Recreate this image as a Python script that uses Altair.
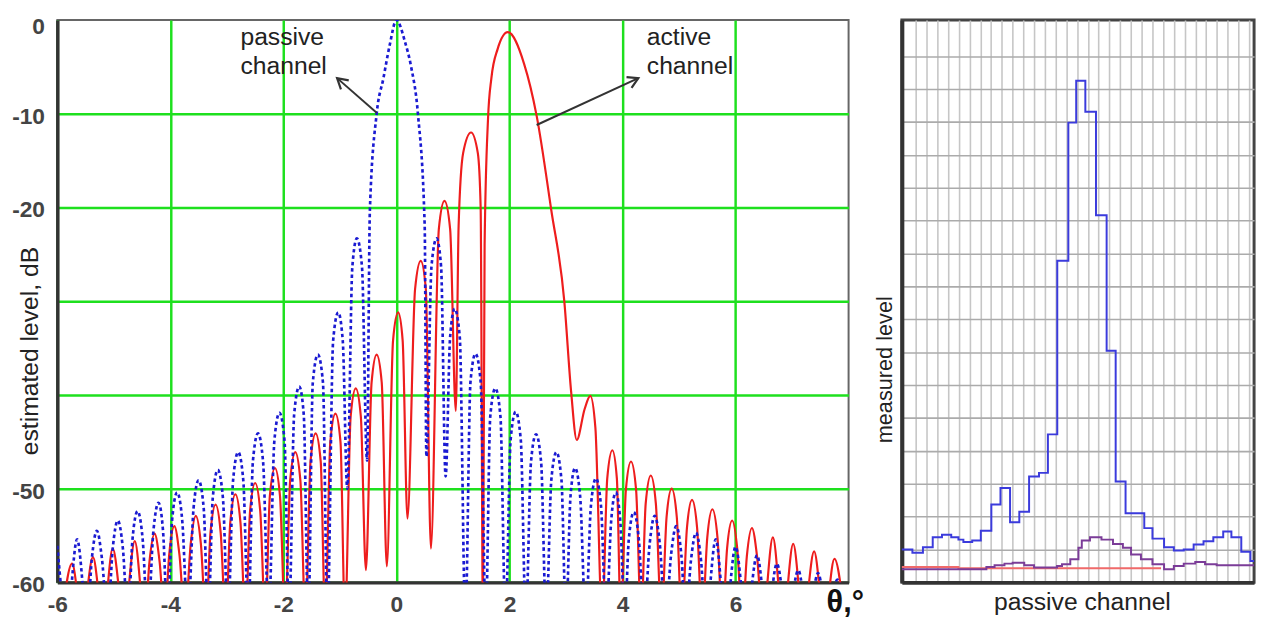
import altair as alt
import pandas as pd

F = -64  # a null that falls below the -60 dB floor of the plot

# ---------------- left panel: estimated beam patterns, (theta deg, level dB) ----------------
active_left = [
    (-5.92, F), (-5.74, -58.0), (-5.56, F), (-5.37, -57.3), (-5.19, F),
    (-5.02, -56.4), (-4.82, F), (-4.63, -55.6), (-4.45, F),
    (-4.37, -57.8), (-4.28, -54.8), (-4.19, -57.8), (-4.10, F),
    (-4.02, -57.0), (-3.93, -54.0), (-3.84, -57.0), (-3.74, F),
    (-3.64, -55.9), (-3.55, -52.9), (-3.46, -55.9), (-3.37, F),
    (-3.29, -54.7), (-3.20, -51.7), (-3.11, -54.7), (-3.02, F),
    (-2.94, -53.6), (-2.85, -50.6), (-2.76, -53.6), (-2.67, F),
    (-2.59, -52.4), (-2.50, -49.4), (-2.41, -52.4), (-2.32, F),
    (-2.24, -50.8), (-2.15, -47.8), (-2.06, -50.8), (-1.97, F),
    (-1.88, -49.1), (-1.79, -46.1), (-1.70, -49.1), (-1.61, F),
    (-1.52, -47.1), (-1.43, -44.1), (-1.34, -47.1), (-1.26, F),
    (-1.17, -45.0), (-1.08, -42.0), (-0.99, -45.0), (-0.91, F),
]
active_center = [
    (-0.81, -42.3), (-0.72, -39.3), (-0.63, -42.3), (-0.54, -58.7),
    (-0.44, -38.7), (-0.35, -35.7), (-0.26, -38.7), (-0.17, -58.3),
    (-0.06, -34.2), (0.03, -31.2), (0.11, -34.2), (0.195, -53.2),
    (0.33, -28.7), (0.43, -25.7), (0.52, -28.7), (0.61, -56.4),
    (0.75, -22.3), (0.85, -19.3), (0.95, -22.3), (1.05, -41.7),
    (1.10, -22.0), (1.18, -14.2), (1.32, -12.0), (1.44, -14.2), (1.49, -20.0), (1.53, F),
    (1.56, -24.0), (1.62, -10.6), (1.68, -6.2), (1.79, -3.1), (1.97, -1.3),
    (2.26, -4.7), (2.48, -10.2), (2.74, -20.3), (2.97, -30.0), (3.09, -39.6),
    (3.19, -44.8), (3.33, -41.5), (3.43, -40.1), (3.52, -43.5), (3.64, F),
]
active_right = [
    (3.73, -48.9), (3.82, -45.9), (3.90, -48.9), (3.97, F),
    (4.06, -50.1), (4.15, -47.1), (4.24, -50.1), (4.33, F),
    (4.41, -51.6), (4.50, -48.6), (4.59, -51.6), (4.69, F),
    (4.78, -53.0), (4.87, -50.0), (4.96, -53.0), (5.05, F),
    (5.14, -54.2), (5.23, -51.2), (5.32, -54.2), (5.41, F),
    (5.50, -55.2), (5.59, -52.2), (5.68, -55.2), (5.77, F),
    (5.85, -56.4), (5.94, -53.4), (6.03, -56.4), (6.12, F),
    (6.20, -57.2), (6.29, -54.2), (6.38, -57.2), (6.48, F),
    (6.66, -55.2), (6.84, F), (7.02, -55.9), (7.20, F),
    (7.39, -56.7), (7.57, F), (7.75, -57.5), (7.93, F),
]

passive_left = [
    (-6.00, -56.1), (-5.83, F), (-5.65, -55.4), (-5.47, F),
    (-5.39, -57.5), (-5.30, -54.5), (-5.21, -57.5), (-5.11, F),
    (-5.02, -56.4), (-4.93, -53.4), (-4.84, -56.4), (-4.75, F),
    (-4.67, -55.4), (-4.58, -52.4), (-4.49, -55.4), (-4.40, F),
    (-4.30, -54.5), (-4.21, -51.5), (-4.13, -54.5), (-4.05, F),
    (-3.97, -53.4), (-3.88, -50.4), (-3.79, -53.4), (-3.69, F),
    (-3.59, -52.1), (-3.50, -49.1), (-3.41, -52.1), (-3.33, F),
    (-3.25, -51.0), (-3.16, -48.0), (-3.07, -51.0), (-2.98, F),
    (-2.89, -49.1), (-2.80, -46.1), (-2.71, -49.1), (-2.62, F),
    (-2.54, -47.1), (-2.45, -44.1), (-2.36, -47.1), (-2.26, F),
    (-2.16, -44.9), (-2.07, -41.9), (-1.98, -44.9), (-1.90, F),
    (-1.81, -42.1), (-1.72, -39.1), (-1.64, -42.1), (-1.56, F),
    (-1.48, -38.7), (-1.39, -35.7), (-1.30, -38.7), (-1.22, F),
    (-1.12, -34.2), (-1.03, -31.2), (-0.95, -34.2), (-0.87, -50.0),
    (-0.78, -26.3), (-0.70, -23.3), (-0.61, -26.3), (-0.52, -47.0),
]
passive_center = [
    (-0.47, -20.3), (-0.35, -10.0), (-0.23, -6.2), (-0.12, -2.7), (0.00, 0.0),
    (0.15, -2.3), (0.26, -5.0), (0.38, -10.0), (0.50, -22.0), (0.53, -46.6),
    (0.62, -26.3), (0.71, -23.3), (0.79, -26.3), (0.87, -48.7),
    (0.95, -33.8), (1.03, -30.8), (1.12, -33.8), (1.22, F),
]
passive_right = [
    (1.31, -38.6), (1.40, -35.6), (1.49, -38.6), (1.58, F),
    (1.66, -42.3), (1.75, -39.3), (1.84, -42.3), (1.93, F),
    (2.02, -44.8), (2.11, -41.8), (2.20, -44.8), (2.29, F),
    (2.38, -47.2), (2.47, -44.2), (2.56, -47.2), (2.65, F),
    (2.74, -49.1), (2.83, -46.1), (2.92, -49.1), (3.00, F),
    (3.08, -50.8), (3.16, -47.8), (3.25, -50.8), (3.35, F),
    (3.44, -51.9), (3.53, -48.9), (3.62, -51.9), (3.71, F),
    (3.80, -53.4), (3.88, -50.4), (3.96, -53.4), (4.04, F),
    (4.11, -55.5), (4.20, -52.5), (4.29, -55.5), (4.38, F),
    (4.48, -55.9), (4.57, -52.9), (4.66, -55.9), (4.76, F),
    (4.86, -57.0), (4.95, -54.0), (5.04, -57.0), (5.12, F),
    (5.21, -57.7), (5.30, -54.7), (5.39, -57.7), (5.47, F),
    (5.65, -55.4), (5.82, F), (6.00, -56.2), (6.19, F),
    (6.38, -57.1), (6.56, F), (6.73, -58.0), (6.92, F),
    (7.11, -58.7), (7.28, F), (7.46, -59.0), (7.63, F), (7.80, -59.7), (7.97, F),
]

x_ticks = [-6, -4, -2, 0, 2, 4, 6]
y_ticks = [-60, -50, -40, -30, -20, -10, 0]

note_x = [-2.76, 4.43]
note_y = [-2.7, -2.7]
note_text = ["passive\nchannel", "active\nchannel"]

arrow_x0 = [-0.35, 2.48]
arrow_y0 = [-9.9, -11.2]
arrow_x1 = [-1.05, 4.28]
arrow_y1 = [-6.2, -6.2]
arrow_angle = [311, 65]

# ---------------- right panel: measured levels (step traces) ----------------
blue_x = [-0.3, 0.68, 1.66, 2.57, 3.43, 4.29, 4.96, 5.42, 6.24, 7.04,
          8.02, 8.87, 9.76, 10.62, 11.53, 12.45, 13.28, 14.15, 15.18, 15.91,
          16.76, 17.75, 18.74, 19.58, 20.50, 22.24, 23.00, 24.08, 24.99, 25.91,
          26.83, 27.75, 28.66, 29.58, 30.34, 31.26, 32.11, 32.45]
blue_y = [1.0, 0.90, 1.07, 1.37, 1.45, 1.37, 1.30, 1.23, 1.27, 1.57,
          2.37, 2.87, 1.83, 2.15, 3.22, 3.33, 4.50, 9.78, 13.98, 15.25,
          14.31, 11.16, 7.04, 3.07, 2.10, 1.65, 1.33, 1.07, 0.97, 1.0,
          1.15, 1.25, 1.37, 1.55, 1.37, 0.93, 0.65, 0.65]

purple_x = [-0.3, 7.56, 8.32, 9.24, 10.0, 11.08, 11.99, 14.13, 14.59, 15.36,
            16.12, 16.43, 17.19, 18.26, 19.33, 20.25, 21.01, 21.93, 23.0, 24.08,
            24.99, 25.91, 26.98, 27.89, 28.97, 32.45]
purple_y = [0.40, 0.47, 0.52, 0.57, 0.60, 0.52, 0.45, 0.50, 0.55, 0.70,
            1.05, 1.27, 1.37, 1.30, 1.17, 1.05, 0.85, 0.70, 0.55, 0.40,
            0.50, 0.57, 0.62, 0.55, 0.52, 0.52]

red_x = [-0.3, 4.96, 23.8]
red_y = [0.47, 0.43, 0.43]

# ---------------- styling ----------------
LW, LH = 802, 570
RW, RH = 357, 570
FONT = "Liberation Sans"
GREEN = "#1ee01e"

xs = alt.Scale(domain=[-6, 8], nice=False, zero=False)
ys = alt.Scale(domain=[-60, 0], nice=False, zero=False)

x_axis = alt.Axis(
    values=x_ticks, grid=True, gridColor=GREEN, gridWidth=2.5, ticks=False,
    domainColor="#333", domainWidth=3.5, labelFlush=False,
    labelExpr="toString(datum.value)", labelFont=FONT, labelFontSize=23,
    labelFontWeight="bold", labelColor="#444", labelPadding=12,
    title="θ,°", titleFont=FONT, titleFontSize=31, titleFontWeight="bold",
    titleColor="#111", titleAlign="right", titleBaseline="alphabetic",
    titleX=LW + 15, titleY=30,
)
y_axis = alt.Axis(
    values=y_ticks, grid=True, gridColor=GREEN, gridWidth=2.5,
    gridOpacity={"condition": {"test": "datum.value === 0", "value": 0}, "value": 1},
    ticks=False, domainColor="#333", domainWidth=3.5,
    labelExpr="datum.value == -30 || datum.value == -40 ? '' : toString(datum.value)",
    labelFont=FONT, labelFontSize=23, labelFontWeight="bold", labelColor="#444",
    labelPadding=13,
    labelOffset={"condition": {"test": "datum.value === 0", "value": 6.5}, "value": 2.5},
    title="estimated level, dB", titleFont=FONT, titleFontSize=25,
    titleFontWeight="normal", titleColor="#222", titleAngle=270,
    titleAlign="center", titleBaseline="alphabetic", titleX=-20, titleY=335,
)

active_pts = active_left + active_center + active_right
passive_pts = passive_left + passive_center + passive_right
df_active = pd.DataFrame(active_pts, columns=["theta", "level"])
df_passive = pd.DataFrame(passive_pts, columns=["theta", "level"])
df_notes = pd.DataFrame({"theta": note_x, "level": note_y, "label": note_text})
df_arrows = pd.DataFrame({"theta": arrow_x0, "level": arrow_y0,
                          "theta1": arrow_x1, "level1": arrow_y1})
df_heads = pd.DataFrame({"theta": arrow_x1, "level": arrow_y1, "angle": arrow_angle})

X = alt.X("theta:Q", scale=xs, axis=x_axis)
Y = alt.Y("level:Q", scale=ys, axis=y_axis)

red_line = alt.Chart(df_active).mark_line(
    color="#ee1d1d", strokeWidth=2.2, interpolate="monotone", clip=True
).encode(x=X, y=Y)
blue_line = alt.Chart(df_passive).mark_line(
    color="#1a1ad2", strokeWidth=2.7, strokeDash=[3.5, 3], interpolate="monotone", clip=True
).encode(x=X, y=Y)
arrow_lines = alt.Chart(df_arrows).mark_rule(color="#333", strokeWidth=2).encode(
    x=X, y=Y, x2="theta1:Q", y2="level1:Q",
)
arrow_heads = alt.Chart(df_heads).mark_point(
    shape="M-0.55,0.95L0,0L0.55,0.95", filled=False, color="#333",
    strokeWidth=2.2, size=480, opacity=1,
).encode(x=X, y=Y, angle=alt.Angle("angle:Q", scale=None))
notes = alt.Chart(df_notes).mark_text(
    align="left", baseline="alphabetic", font=FONT, fontSize=25,
    lineBreak="\n", lineHeight=29, color="#222",
).encode(x=X, y=Y, text="label:N")

left = alt.layer(red_line, blue_line, arrow_lines, arrow_heads, notes).properties(
    width=LW, height=LH, view=alt.ViewBackground(stroke="#666", strokeWidth=2)
)

# ---------------- right panel ----------------
rxs = alt.Scale(domain=[-0.3, 32.45], nice=False, zero=False)
rys = alt.Scale(domain=[0, 17.1], nice=False, zero=False)

rx_axis = alt.Axis(
    values=list(range(1, 33)), grid=True, gridColor="#c6c6c6", gridWidth=1.6,
    labels=False, ticks=False, domainColor="#333", domainWidth=4,
    title="passive channel", titleFont=FONT, titleFontSize=25,
    titleFontWeight="normal", titleColor="#222", titleBaseline="alphabetic",
    titleAlign="center", titleX=RW / 2 + 4, titleY=27,
)
ry_axis = alt.Axis(
    values=list(range(1, 17)), grid=True, gridColor="#ababab", gridWidth=1.6,
    labels=False, ticks=False, domainColor="#333", domainWidth=4,
    title="measured level", titleFont=FONT, titleFontSize=22,
    titleFontWeight="normal", titleColor="#222", titleAngle=270,
    titleAlign="center", titleBaseline="alphabetic", titleX=-11, titleY=354,
)

RX = alt.X("x:Q", scale=rxs, axis=rx_axis)
RY = alt.Y("y:Q", scale=rys, axis=ry_axis)

df_red = pd.DataFrame({"x": red_x, "y": red_y})
df_purple = pd.DataFrame({"x": purple_x, "y": purple_y})
df_blue = pd.DataFrame({"x": blue_x, "y": blue_y})

r_red = alt.Chart(df_red).mark_line(
    color="#f06a6a", strokeWidth=2, interpolate="step-after"
).encode(x=RX, y=RY)
r_purple = alt.Chart(df_purple).mark_line(
    color="#7b3c98", strokeWidth=2, interpolate="step-after"
).encode(x=RX, y=RY)
r_blue = alt.Chart(df_blue).mark_line(
    color="#3b3bdc", strokeWidth=2, interpolate="step-after"
).encode(x=RX, y=RY)

right = alt.layer(r_red, r_purple, r_blue).properties(
    width=RW, height=RH, view=alt.ViewBackground(stroke="#444", strokeWidth=3)
)

chart = alt.hconcat(left, right, spacing=7).properties(
    padding={"left": 2, "top": 2, "right": 0, "bottom": 0}
)

chart.save("out.html", embed_options={"renderer": "svg", "actions": False})
